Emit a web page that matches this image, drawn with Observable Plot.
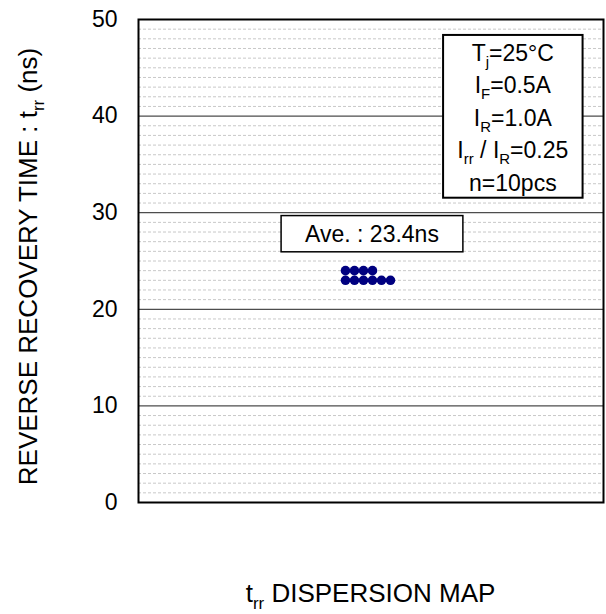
<!DOCTYPE html>
<html>
<head>
<meta charset="utf-8">
<script src="https://cdn.jsdelivr.net/npm/d3@7"></script>
<script src="https://cdn.jsdelivr.net/npm/@observablehq/plot@0.6"></script>
<style>
  html, body { margin: 0; padding: 0; background: #fff; }
  svg { font-family: "Liberation Sans", Arial, sans-serif; }
</style>
</head>
<body>
<div id="chart"></div>
<script>
// ---- data ----
const samples = [24, 24, 24, 24, 23, 23, 23, 23, 23, 23]; // trr of each piece (ns)
const yTicks = [0, 10, 20, 30, 40, 50];
const majorGrid = [10, 20, 30, 40];
const minorGrid = d3.range(1, 50).filter(v => v % 10 !== 0);
const averageText = "Ave. : 23.4ns";
// condition lines: [text, kind]
const conditions = [
  [["T", ""], ["j", "sub"], ["=25°C", ""]],
  [["I", ""], ["F", "sub"], ["=0.5A", ""]],
  [["I", ""], ["R", "sub"], ["=1.0A", ""]],
  [["I", ""], ["rr", "sub"], [" / I", ""], ["R", "sub"], ["=0.25", ""]],
  [["n=10pcs", ""]]
];
const yLabel = [["REVERSE RECOVERY TIME : t", ""], ["rr", "sub"], [" (ns)", ""]];
const xTitle = [["t", ""], ["rr", "sub"], [" DISPERSION MAP", ""]];

// stack equal values side by side
const counts = new Map();
const dots = samples.map(v => {
  const k = counts.has(v) ? counts.get(v) + 1 : 0;
  counts.set(v, k);
  return { value: v, slot: k };
});

const FS = 23;      // tick labels, boxes
const TFS = 26;     // axis titles
const plot = Plot.plot({
  width: 606,
  height: 614,
  marginLeft: 138,
  marginRight: 3,
  marginTop: 19,
  marginBottom: 112,
  style: { fontSize: FS + "px", fontFamily: "'Liberation Sans', Arial, sans-serif", background: "#fff", color: "#000" },
  x: { domain: [-23, 28.67], axis: null },
  y: { domain: [0, 50], ticks: yTicks, tickSize: 0, tickPadding: 21, label: null, tickFormat: d => String(d) },
  marks: [
    Plot.ruleY(minorGrid, { stroke: "#c8c8c8", strokeDasharray: "3,2", strokeWidth: 1 }),
    Plot.ruleY(majorGrid, { stroke: "#4d4d4d", strokeWidth: 1.3 }),
    Plot.dot(dots, { x: "slot", y: "value", r: 4.8, fill: "#000080", stroke: "none" }),
    // average box
    Plot.rect([0], { x1: -7.1, x2: 13.1, y1: 25.9, y2: 29.65, fill: "#fff", stroke: "#000", strokeWidth: 1.5 }),
    // conditions box
    Plot.rect([0], { x1: 10.9, x2: 26.4, y1: 31.5, y2: 48.35, fill: "#fff", stroke: "#000", strokeWidth: 2 }),
    Plot.frame({ stroke: "#000", strokeWidth: 2 })
  ]
});
document.getElementById("chart").appendChild(plot);

const svg = d3.select(plot);
const sx = plot.scale("x"), sy = plot.scale("y");

function richText(g, parts, size) {
  const t = g.append("text").attr("font-size", size).attr("fill", "#000");
  let shifted = false;
  parts.forEach(([s, kind]) => {
    const ts = t.append("tspan").text(s);
    if (kind === "sub") {
      ts.attr("font-size", size * 0.65).attr("dy", shifted ? 0 : size * 0.25);
      shifted = true;
    } else {
      if (shifted) ts.attr("dy", -size * 0.25);
      shifted = false;
    }
  });
  return t;
}

// average label
{
  const cx = (sx.apply(-7.1) + sx.apply(13.1)) / 2;
  const cy = (sy.apply(25.9) + sy.apply(29.65)) / 2;
  svg.append("text").attr("x", cx).attr("y", cy).attr("dy", "0.36em")
    .attr("text-anchor", "middle").attr("font-size", FS).attr("fill", "#000").text(averageText);
}

// conditions
{
  const cx = (sx.apply(10.9) + sx.apply(26.4)) / 2;
  const top = sy.apply(48.35);
  conditions.forEach((line, i) => {
    const g = svg.append("g").attr("transform", `translate(${cx},${top + 26 + i * 32.5})`);
    richText(g, line, FS).attr("text-anchor", "middle");
  });
}

// y label
{
  const g = svg.append("g").attr("transform", `translate(37,${(sy.apply(0) + sy.apply(50)) / 2 + 6}) rotate(-90)`);
  richText(g, yLabel, TFS).attr("text-anchor", "middle");
}

// bottom title
{
  const cx = (sx.apply(-23) + sx.apply(28.67)) / 2;
  const g = svg.append("g").attr("transform", `translate(${cx},602)`);
  richText(g, xTitle, TFS).attr("text-anchor", "middle");
}
</script>
</body>
</html>
